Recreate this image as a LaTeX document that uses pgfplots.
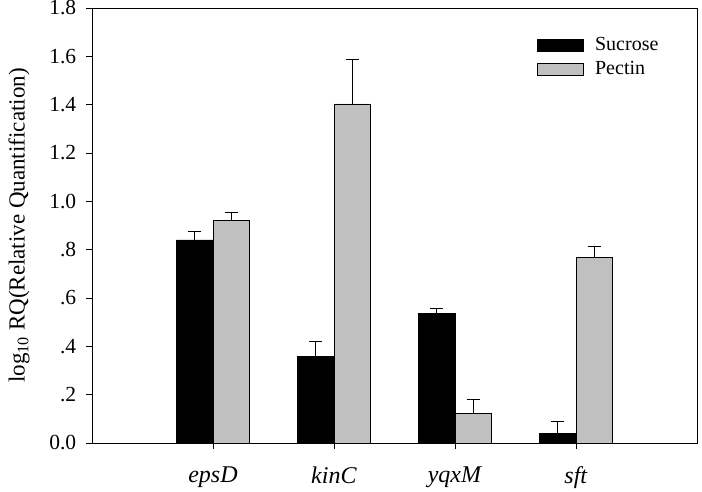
\documentclass[border=0pt]{standalone}
\usepackage{pgfplots}
\pgfplotsset{compat=1.18}
\usepackage{fontspec}
\setmainfont{Liberation Serif}
\definecolor{pgrey}{RGB}{192,192,192}
\begin{document}
\fontsize{20bp}{24bp}\selectfont
\begin{tikzpicture}
\begin{axis}[
  at={(92bp,49bp)}, anchor=south west,
  scale only axis, width=605bp, height=435bp,
  xmin=0, xmax=5, ymin=0, ymax=1.8,
  xtick={1,2,3,4},
  xticklabels={\textit{epsD},\textit{kinC},\textit{yqxM},\textit{sft}},
  ytick={0,0.2,0.4,0.6,0.8,1.0,1.2,1.4,1.6,1.8},
  yticklabels={0.0,.2,.4,.6,.8,1.0,1.2,1.4,1.6,1.8},
  /pgf/number format/assume math mode=true,
  tick align=outside, xtick pos=bottom, ytick pos=left,
  major tick length=6bp,
  tick style={black, line width=0.8bp},
  axis line style={line width=0.8bp},
  yticklabel style={font=\fontsize{21.5bp}{24bp}\selectfont, xshift=-3bp, inner ysep=0bp},
  xticklabel style={font=\fontsize{24bp}{28bp}\selectfont, yshift=-11bp},
  ylabel={log\textsubscript{10} RQ(Relative Quantification)},
  ylabel style={font=\fontsize{23bp}{27bp}\selectfont, at={(axis description cs:-0.1207,0.5)}, anchor=center},
  ybar, bar width=0.3,
  legend style={draw=none, fill=none, at={(axis description cs:0.73,0.942)}, anchor=north west,
    font=\fontsize{20bp}{24bp}\selectfont, row sep=4bp, cells={anchor=west}},
  legend image code/.code={\draw[#1] (0bp,-6bp) rectangle (46bp,6bp); \path[draw=none,fill=none] (0bp,0bp) -- (56bp,0bp);},
  error bars/error bar style={black, line width=0.8bp},
  error bars/error mark options={rotate=90, mark size=6.5bp, line width=0.8bp, black},
]
\addplot[fill=black, draw=black, line width=0.6bp, bar shift=-0.15,
  error bars/.cd, y dir=plus, y explicit]
  coordinates {(1,0.840) +- (0,0.037) (2,0.357) +- (0,0.062) (3,0.537) +- (0,0.018) (4,0.039) +- (0,0.052)};
\addplot[fill=pgrey, draw=black, line width=0.6bp, bar shift=0.15,
  error bars/.cd, y dir=plus, y explicit]
  coordinates {(1,0.920) +- (0,0.036) (2,1.403) +- (0,0.185) (3,0.124) +- (0,0.055) (4,0.768) +- (0,0.047)};
\legend{Sucrose,Pectin}
\end{axis}
\pgfresetboundingbox
\useasboundingbox (0,0) rectangle (702bp,492bp);
\end{tikzpicture}
\end{document}
